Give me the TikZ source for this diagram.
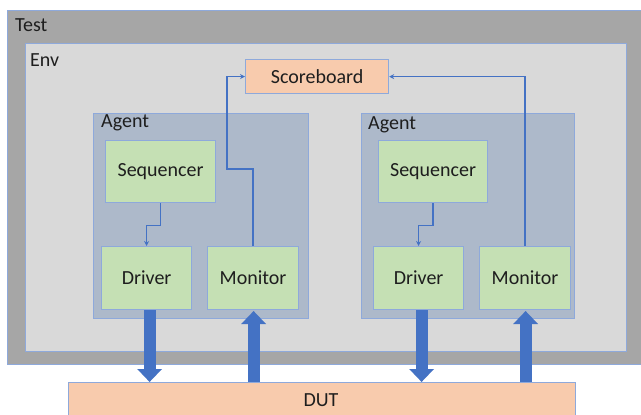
\documentclass[tikz,border=0pt]{standalone}
\usepackage{fontspec}
\setmainfont{Carlito}
\usetikzlibrary{arrows.meta}
\definecolor{testfill}{HTML}{A6A6A6}
\definecolor{envfill}{HTML}{D9D9D9}
\definecolor{agentfill}{HTML}{ADB9CA}
\definecolor{compfill}{HTML}{C5E0B4}
\definecolor{peach}{HTML}{F8CBAD}
\definecolor{edge}{HTML}{8EA9DB}
\definecolor{flow}{HTML}{4472C4}
\definecolor{ink}{HTML}{1E1E1E}
\tikzset{
  box/.style={draw=edge, line width=1.2pt, inner sep=0pt, anchor=north west,
    font=\fontsize{20}{24}\selectfont, text=ink},
  container/.style={box},
  comp/.style={box, fill=compfill},
  peachbox/.style={box, fill=peach},
  caption/.style={anchor=west, inner sep=0pt, font=\fontsize{20}{24}\selectfont, text=ink},
  wire/.style={draw=flow, line width=1.3pt, -{Stealth[length=5pt,width=5pt]}},
  bus/.style={draw=flow, line width=12pt, -{Triangle[length=13pt,width=24pt]}}
}
\begin{document}
\begin{tikzpicture}[x=1pt,y=-1pt]
\useasboundingbox (0,0) rectangle (641,415);
\clip (0,0) rectangle (641,415);
\fill[white] (0,0) rectangle (641,415);

% outer containers
\node[container, fill=testfill, minimum width=650pt, minimum height=354pt] (test) at (7,10) {};
\node[caption] (testlbl) at (15,25) {Test};
\node[container, fill=envfill, minimum width=601pt, minimum height=308pt] (env) at (25,43) {};
\node[caption] (envlbl) at (30,60) {Env};

% scoreboard
\node[peachbox, minimum width=143pt, minimum height=34pt] (sb) at (245,59) {Scoreboard};

% left agent
\node[container, fill=agentfill, minimum width=215pt, minimum height=205pt] (agL) at (93,113) {};
\node[caption] (agLlbl) at (101,123) {Agent};
\node[comp, minimum width=110pt, minimum height=62pt] (seqL) at (105,140) {Sequencer};
\node[comp, minimum width=90pt, minimum height=63pt] (drvL) at (101,246) {Driver};
\node[comp, minimum width=91pt, minimum height=63pt] (monL) at (207,246) {Monitor};

% right agent
\node[container, fill=agentfill, minimum width=213pt, minimum height=205pt] (agR) at (361,113) {};
\node[caption] (agRlbl) at (368,125) {Agent};
\node[comp, minimum width=109pt, minimum height=62pt] (seqR) at (378,140) {Sequencer};
\node[comp, minimum width=90pt, minimum height=63pt] (drvR) at (373,246) {Driver};
\node[comp, minimum width=91pt, minimum height=63pt] (monR) at (479,246) {Monitor};

% design under test
\node[peachbox, minimum width=507pt, minimum height=40pt] (dut) at (68,382) {};
\node[font=\fontsize{20}{24}\selectfont, text=ink, inner sep=0pt] (dutlbl) at (321,400) {DUT};

% sequencer to driver
\draw[wire] (seqL.south) -- ++(0,22) -| (drvL.north);
\draw[wire] (seqR.south) -- ++(0,22) -| (drvR.north);

% monitors to scoreboard
\draw[wire] (monL.north) -- ++(0,-77) -| ([xshift=-18pt]sb.west) -- (sb.west);
\draw[wire] (monR.north) |- (sb.east);

% pin-level traffic between agents and DUT
\draw[bus] ([xshift=3pt]drvL.south) -- ([xshift=3pt]drvL.south |- dut.north);
\draw[bus] ([xshift=0.5pt]monL.south |- dut.north) -- ++(0,-71);
\draw[bus] ([xshift=3pt]drvR.south) -- ([xshift=3pt]drvR.south |- dut.north);
\draw[bus] ([xshift=0.5pt]monR.south |- dut.north) -- ++(0,-71);
\end{tikzpicture}
\end{document}
